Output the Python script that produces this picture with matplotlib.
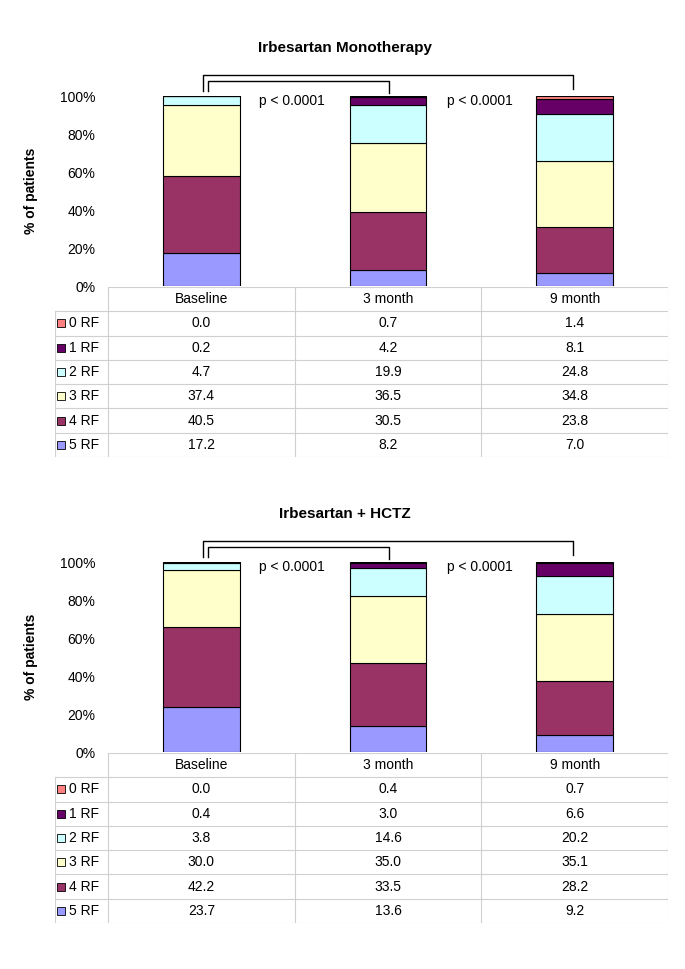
import matplotlib
matplotlib.use("Agg")
import matplotlib.pyplot as plt

plt.rcParams['font.family'] = ['Liberation Sans', 'DejaVu Sans']

timepoints = ['Baseline', '3 month', '9 month']
rf_labels = ['0 RF', '1 RF', '2 RF', '3 RF', '4 RF', '5 RF']
rf_colors = ['#FF8080', '#660066', '#CCFFFF', '#FFFFCC', '#993366', '#9999FF']

# % of patients per risk-factor count, rows follow rf_labels
mono_0rf = [0.0, 0.7, 1.4]
mono_1rf = [0.2, 4.2, 8.1]
mono_2rf = [4.7, 19.9, 24.8]
mono_3rf = [37.4, 36.5, 34.8]
mono_4rf = [40.5, 30.5, 23.8]
mono_5rf = [17.2, 8.2, 7.0]

hctz_0rf = [0.0, 0.4, 0.7]
hctz_1rf = [0.4, 3.0, 6.6]
hctz_2rf = [3.8, 14.6, 20.2]
hctz_3rf = [30.0, 35.0, 35.1]
hctz_4rf = [42.2, 33.5, 28.2]
hctz_5rf = [23.7, 13.6, 9.2]

p_text = 'p < 0.0001'

W, H = 685, 969


def px(x0, y0, x1, y1):
    return [x0 / W, 1 - y1 / H, (x1 - x0) / W, (y1 - y0) / H]


def draw_panel(fig, dy, title, rows):
    ax = fig.add_axes(px(108, 96 + dy, 668, 286 + dy))
    x = [0.5, 1.5, 2.5]
    bottom = [0, 0, 0]
    # stack from 5 RF at the bottom up to 0 RF at the top
    for lab, col, vals in reversed(list(zip(rf_labels, rf_colors, rows))):
        ax.bar(x, vals, width=0.41, bottom=bottom, color=col,
               edgecolor='black', linewidth=0.8)
        bottom = [b + v for b, v in zip(bottom, vals)]
    ax.set_xlim(0, 3)
    ax.set_ylim(0, 100)
    ax.set_yticks([0, 20, 40, 60, 80, 100])
    ax.set_yticklabels(['0%', '20%', '40%', '60%', '80%', '100%'], fontsize=10)
    ax.tick_params(axis='y', length=0, pad=9)
    ax.set_xticks([])
    for s in ['left', 'right', 'top', 'bottom']:
        ax.spines[s].set_visible(False)
    ax.set_ylabel('% of patients', fontsize=10, fontweight='bold', labelpad=16)
    fig.text(0.504, 1 - (48 + dy) / H, title, fontsize=11, fontweight='bold',
             ha='center', va='center')

    # significance brackets
    ax.plot([0.51, 0.51, 2.49, 2.49], [102.5, 111.2, 111.2, 103.7],
            color='black', lw=1, clip_on=False)
    ax.plot([0.535, 0.535, 1.505, 1.505], [102.5, 107.8, 107.8, 101.8],
            color='black', lw=1, clip_on=False)
    ax.text(0.985, 97.5, p_text, fontsize=10, ha='center', va='center')
    ax.text(1.99, 97.5, p_text, fontsize=10, ha='center', va='center')

    # data table below the bars
    tb = fig.add_axes(px(55, 287 + dy, 668, 457 + dy))
    lw_col = 53 / 186.7
    tb.set_xlim(-lw_col, 3)
    tb.set_ylim(7, 0)
    tb.axis('off')
    grid = '#D0D0D0'
    tb.plot([0, 3], [0, 0], color=grid, lw=0.8)
    for r in range(1, 8):
        tb.plot([-lw_col, 3], [r, r], color=grid, lw=0.8)
    tb.plot([-lw_col, -lw_col], [1, 7], color=grid, lw=0.8)
    for c in range(4):
        tb.plot([c, c], [0, 7], color=grid, lw=0.8)
    for c, name in enumerate(timepoints):
        tb.text(c + 0.5, 0.5, name, ha='center', va='center', fontsize=10)
    for r, (lab, col, vals) in enumerate(zip(rf_labels, rf_colors, rows)):
        yy = r + 1.5
        tb.plot([-lw_col + 0.03], [yy], marker='s', ms=6, mfc=col,
                mec='black', mew=0.6)
        tb.text(-lw_col + 0.075, yy, lab, ha='left', va='center', fontsize=10)
        for c, v in enumerate(vals):
            tb.text(c + 0.5, yy, f'{v:.1f}', ha='center', va='center',
                    fontsize=10)


fig = plt.figure(figsize=(W / 100, H / 100), dpi=100)
draw_panel(fig, 0, 'Irbesartan Monotherapy',
           [mono_0rf, mono_1rf, mono_2rf, mono_3rf, mono_4rf, mono_5rf])
draw_panel(fig, 466, 'Irbesartan + HCTZ',
           [hctz_0rf, hctz_1rf, hctz_2rf, hctz_3rf, hctz_4rf, hctz_5rf])
fig.savefig('out.png', dpi=100, facecolor='white')
